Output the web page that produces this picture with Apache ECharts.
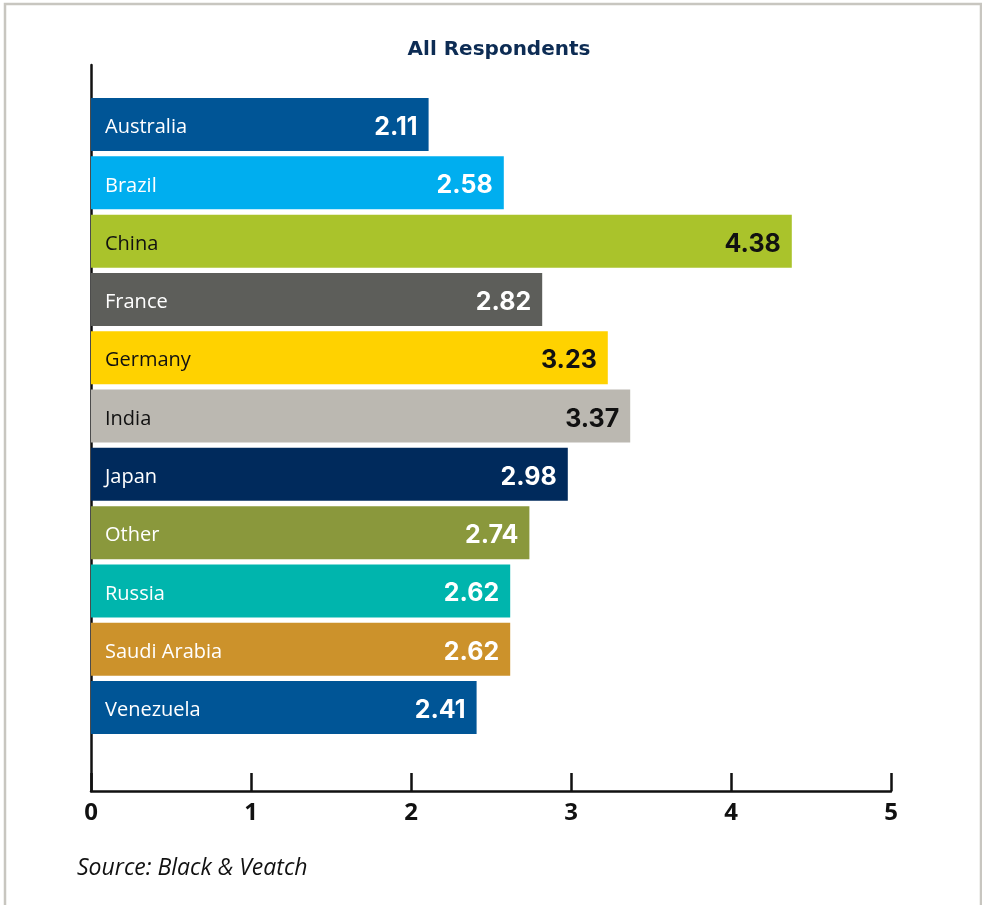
<!DOCTYPE html>
<html>
<head>
<meta charset="utf-8">
<style>
html,body{margin:0;padding:0;background:#fff;}
#chart{width:982px;height:905px;}
</style>
<script src="https://cdn.jsdelivr.net/npm/echarts@6/dist/echarts.min.js"></script>
</head>
<body>
<div id="chart"></div>
<script>
const categories = ['Australia','Brazil','China','France','Germany','India','Japan','Other','Russia','Saudi Arabia','Venezuela'];
const values = [2.11, 2.58, 4.38, 2.82, 3.23, 3.37, 2.98, 2.74, 2.62, 2.62, 2.41];
const barColors = ['#005596','#00aeef','#aac32b','#5d5e5a','#ffd200','#bbb8b1','#002a5c','#8a983c','#00b5ad','#cc922b','#005596'];
const labelColors = ['#fff','#fff','#111','#fff','#111','#111','#fff','#fff','#fff','#fff','#fff'];
const xTicks = [0,1,2,3,4,5];

const FONT = '"Open Sans", "Noto Sans", sans-serif';
const BOLD = 'Inter, "Noto Sans", sans-serif';
const TITLEF = '"DejaVu Sans", "Open Sans", sans-serif';
const TICKF = '"Noto Sans", "Open Sans", sans-serif';
const chart = echarts.init(document.getElementById('chart'));

const nameData = values.map((v,i)=>({
  value: v,
  itemStyle:{color: barColors[i]},
  label:{color: labelColors[i]}
}));
const valData = values.map((v,i)=>({
  value: v,
  label:{color: labelColors[i]}
}));

chart.setOption({
  animation:false,
  title:{
    text:'All Respondents',
    left:494, top:35, textAlign:'center',
    textStyle:{fontFamily:TITLEF,fontSize:20,fontWeight:'bold',color:'#0d2c54'}
  },
  graphic:[
    {type:'rect',shape:{x:5,y:4,width:976,height:920},style:{fill:'none',stroke:'#c8c6c0',lineWidth:2.5},silent:true},
    {type:'text',left:77,top:857,style:{text:'Source: Black & Veatch',font:'italic 23px '+FONT,fill:'#111'}}
  ],
  grid:[
    {left:91,width:800,top:95.4,height:641.3,containLabel:false},
    {left:91,width:800,top:65,height:726,containLabel:false}
  ],
  xAxis:[
    {gridIndex:0,type:'value',min:0,max:5,show:false},
    {gridIndex:1,type:'value',min:0,max:5,interval:1,
      axisLine:{show:true,lineStyle:{color:'#111',width:2.5}},
      axisTick:{show:true,inside:true,length:18,lineStyle:{color:'#111',width:2.5}},
      axisLabel:{show:true,margin:10,fontFamily:TICKF,fontSize:24,fontWeight:'bold',color:'#111'},
      splitLine:{show:false}
    }
  ],
  yAxis:[
    {gridIndex:0,type:'category',data:categories,inverse:true,show:false},
    {gridIndex:1,type:'value',min:0,max:1,
      axisLine:{show:true,lineStyle:{color:'#111',width:2.5}},
      axisTick:{show:false},axisLabel:{show:false},splitLine:{show:false}
    }
  ],
  series:[
    {type:'bar',xAxisIndex:0,yAxisIndex:0,barWidth:53,data:nameData,
      label:{show:true,position:'insideLeft',distance:14,offset:[0,3],formatter:'{b}',
        fontFamily:FONT,fontSize:20,fontWeight:'normal'}
    },
    {type:'bar',xAxisIndex:0,yAxisIndex:0,barWidth:53,barGap:'-100%',data:valData,
      itemStyle:{color:'rgba(0,0,0,0)'},
      label:{show:true,position:'insideRight',distance:11,offset:[0,3],formatter:(p)=>p.value.toFixed(2),
        fontFamily:BOLD,fontSize:25,fontWeight:'bold'}
    }
  ]
});
</script>
</body>
</html>
